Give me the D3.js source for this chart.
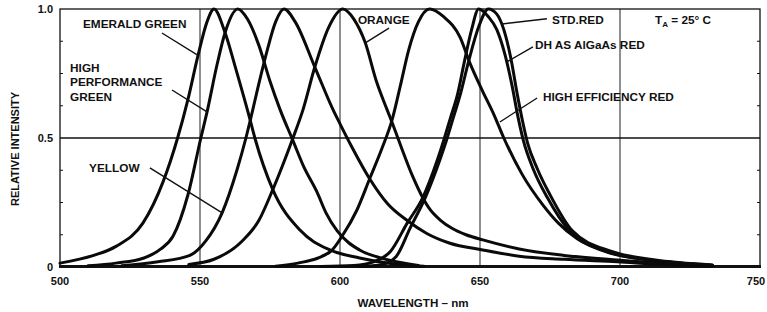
<!DOCTYPE html>
<html>
<head>
<meta charset="utf-8">
<script src="https://cdn.jsdelivr.net/npm/d3@7"></script>
<style>
  body { margin: 0; background: #fff; }
  text { font-family: "Liberation Sans", Arial, sans-serif; font-weight: bold; fill: #111; }
</style>
</head>
<body>
<svg id="chart" width="767" height="312"></svg>
<script>
// ---- data: [wavelength nm, relative intensity] ----
const emeraldGreen = [[500,0.015],[512,0.045],[520,0.08],[529.6,0.17],[536.8,0.33],[542,0.5],[545.7,0.65],[549.3,0.82],[552.5,0.95],[555,1.0],[558.9,0.91],[563,0.76],[567.9,0.57],[569.6,0.5],[576,0.3],[585.7,0.143],[596.4,0.066],[607,0.035],[618,0.014],[630,0.003]];
const highPerfGreen = [[510,0.005],[520,0.015],[530,0.035],[536,0.07],[540.4,0.12],[545.7,0.28],[550.3,0.5],[552.5,0.6],[556,0.78],[559,0.91],[563.5,1.0],[567,0.96],[571,0.86],[575,0.72],[578.6,0.61],[583.2,0.49],[587,0.39],[591.8,0.29],[595,0.21],[599,0.14],[603,0.095],[607,0.066],[617,0.028],[628,0.006]];
const yellow = [[522,0.005],[535,0.02],[546.4,0.045],[552,0.1],[557.9,0.21],[563.2,0.376],[566.4,0.5],[568,0.57],[571,0.71],[574,0.84],[577,0.95],[580,1.0],[584,0.95],[591,0.775],[597.5,0.61],[600,0.555],[604,0.47],[610.7,0.34],[617,0.245],[624,0.18],[631,0.13],[639,0.093],[651,0.066],[664,0.042],[680,0.03],[699,0.02],[715,0.01],[733,0.004]];
const orange = [[546,0.01],[555,0.03],[565,0.1],[571,0.18],[576,0.3],[583.2,0.5],[586.8,0.61],[591,0.775],[596,0.93],[601,1.0],[605,0.96],[609,0.87],[613,0.72],[616.8,0.61],[618.6,0.56],[621,0.49],[626,0.35],[629,0.28],[632,0.225],[636,0.18],[640,0.15],[645,0.125],[651,0.105],[664,0.07],[680,0.045],[699,0.027],[715,0.015],[733,0.006]];
const highEffRed = [[577,0.003],[585,0.015],[596.4,0.058],[601,0.124],[606,0.22],[610.7,0.345],[615,0.46],[618.6,0.57],[621.5,0.7],[624.5,0.84],[628,0.95],[632,1.0],[637,0.97],[642.9,0.89],[646.4,0.79],[651,0.68],[655,0.59],[658.5,0.5],[665,0.36],[672.5,0.24],[678,0.17],[684.6,0.11],[696.4,0.054],[710.7,0.027],[733,0.006]];
const dhAlGaAsRed = [[593,0.002],[605,0.006],[612,0.02],[618,0.06],[624,0.17],[629.6,0.27],[634.6,0.41],[637,0.49],[639.5,0.58],[642,0.67],[644.5,0.8],[647,0.92],[649.5,1.0],[653,0.97],[656,0.92],[659,0.82],[661.5,0.7],[663.6,0.58],[665.5,0.49],[669,0.38],[674,0.27],[682,0.14],[696,0.058],[710.7,0.027],[733,0.007]];
const stdRed = [[607,0.002],[615,0.01],[620,0.04],[625,0.15],[630.5,0.27],[635.5,0.41],[638,0.49],[640.5,0.58],[643,0.67],[646,0.8],[649.5,0.93],[653,1.0],[656,0.98],[658.5,0.92],[661,0.81],[663.3,0.67],[665.3,0.56],[667,0.48],[670.5,0.38],[675,0.28],[683,0.14],[697,0.06],[712,0.028],[733,0.008]];

const seriesNames = ["EMERALD GREEN","HIGH PERFORMANCE GREEN","YELLOW","ORANGE","HIGH EFFICIENCY RED","DH AS AlGaAs RED","STD.RED"];
const seriesValues = [emeraldGreen, highPerfGreen, yellow, orange, highEffRed, dhAlGaAsRed, stdRed];

const xTicks = [500, 550, 600, 650, 700, 750];
const xGrid = [550, 600, 650, 700];
const yTicks = [0, 0.5, 1.0];
const yTickLabels = ["0", "0.5", "1.0"];
const yMinorTicks = [0.125, 0.25, 0.375, 0.625, 0.75, 0.875];

// label text, anchor [nm, value], leader [[nm,value],[nm,value]]
const labelLines = [["EMERALD GREEN"], ["HIGH","PERFORMANCE","GREEN"], ["YELLOW"], ["ORANGE"], ["STD.RED"], ["DH AS AlGaAs RED"], ["HIGH EFFICIENCY RED"]];
const labelAnchors = [[508.2,0.926],[503.6,0.756],[510.4,0.368],[606.4,0.942],[675.7,0.942],[669.6,0.845],[672.5,0.643]];
const leaders = [
  [[536.4,0.907],[549.3,0.82]],
  [[540,0.686],[552.5,0.601]],
  [[532.1,0.384],[557.9,0.21]],
  [[617.5,0.926],[608.9,0.868]],
  [[673.9,0.962],[657.9,0.942]],
  [[668.9,0.853],[659.6,0.795]],
  [[670.4,0.655],[657.1,0.562]]
];

// ---- chart ----
const svg = d3.select("#chart");
const x = d3.scaleLinear().domain([500, 750]).range([60, 760]);
const y = d3.scaleLinear().domain([0, 1]).range([267, 9]);

// grid
svg.append("g").selectAll("line")
  .data(xGrid)
  .join("line")
    .attr("x1", d => x(d)).attr("x2", d => x(d))
    .attr("y1", y(1)).attr("y2", y(0))
    .attr("stroke", "#333").attr("stroke-width", 1.1);

svg.append("line")
  .attr("x1", x(500)).attr("x2", x(750))
  .attr("y1", y(0.5)).attr("y2", y(0.5))
  .attr("stroke", "#111").attr("stroke-width", 1.5);

// frame
svg.append("rect")
  .attr("x", x(500)).attr("y", y(1))
  .attr("width", x(750) - x(500)).attr("height", y(0) - y(1))
  .attr("fill", "none").attr("stroke", "#111").attr("stroke-width", 1.3);

svg.append("line")
  .attr("x1", x(500) - 1).attr("x2", x(750) + 1)
  .attr("y1", y(0) - 0.5).attr("y2", y(0) - 0.5)
  .attr("stroke", "#111").attr("stroke-width", 3);

// minor ticks on the side borders
svg.append("g").selectAll("line")
  .data(yMinorTicks)
  .join("line")
    .attr("x1", x(500)).attr("x2", x(500) + 3)
    .attr("y1", d => y(d)).attr("y2", d => y(d))
    .attr("stroke", "#111").attr("stroke-width", 1);
svg.append("g").selectAll("line")
  .data(yMinorTicks)
  .join("line")
    .attr("x1", x(750)).attr("x2", x(750) - 3)
    .attr("y1", d => y(d)).attr("y2", d => y(d))
    .attr("stroke", "#111").attr("stroke-width", 1);

// tick labels (last one pulled in so it stays on the page)
svg.append("g").selectAll("text")
  .data(xTicks)
  .join("text")
    .attr("x", d => Math.min(x(d), 756))
    .attr("y", 285)
    .attr("text-anchor", "middle")
    .style("font-size", "11px")
    .text(d => d);

svg.append("g").selectAll("text")
  .data(yTicks)
  .join("text")
    .attr("x", 53)
    .attr("y", d => y(d) + 4)
    .attr("text-anchor", "end")
    .style("font-size", "11px")
    .text((d, i) => yTickLabels[i]);

// axis titles
svg.append("text")
  .attr("x", 413).attr("y", 307)
  .attr("text-anchor", "middle")
  .style("font-size", "11.6px")
  .text("WAVELENGTH – nm");

svg.append("text")
  .attr("transform", "translate(19,149) rotate(-90)")
  .attr("text-anchor", "middle")
  .style("font-size", "11px")
  .text("RELATIVE INTENSITY");

// curves
const line = d3.line()
  .x(d => x(d[0]))
  .y(d => y(d[1]))
  .curve(d3.curveMonotoneX);

svg.append("g").selectAll("path")
  .data(seriesValues)
  .join("path")
    .attr("d", line)
    .attr("fill", "none")
    .attr("stroke", "#0a0a0a")
    .attr("stroke-width", 3)
    .attr("stroke-linejoin", "round")
    .attr("stroke-linecap", "round")
    .attr("aria-label", (d, i) => seriesNames[i]);

// leaders
svg.append("g").selectAll("line")
  .data(leaders)
  .join("line")
    .attr("x1", d => x(d[0][0])).attr("y1", d => y(d[0][1]))
    .attr("x2", d => x(d[1][0])).attr("y2", d => y(d[1][1]))
    .attr("stroke", "#111").attr("stroke-width", 1.4);

// labels
const labels = svg.append("g").selectAll("text")
  .data(labelLines)
  .join("text")
    .attr("x", (d, i) => x(labelAnchors[i][0]))
    .attr("y", (d, i) => y(labelAnchors[i][1]))
    .style("font-size", "11.8px");

labels.selectAll("tspan")
  .data(d => d)
  .join("tspan")
    .attr("x", function () { return d3.select(this.parentNode).attr("x"); })
    .attr("dy", (d, i) => i === 0 ? 0 : 14.5)
    .text(d => d);

// T_A = 25° C
const ta = svg.append("text")
  .attr("x", x(712.5)).attr("y", y(0.942))
  .style("font-size", "11.8px");
ta.append("tspan").text("T");
ta.append("tspan").attr("dy", 3).style("font-size", "8px").text("A");
ta.append("tspan").attr("dy", -3).text(" = 25° C");
</script>
</body>
</html>
